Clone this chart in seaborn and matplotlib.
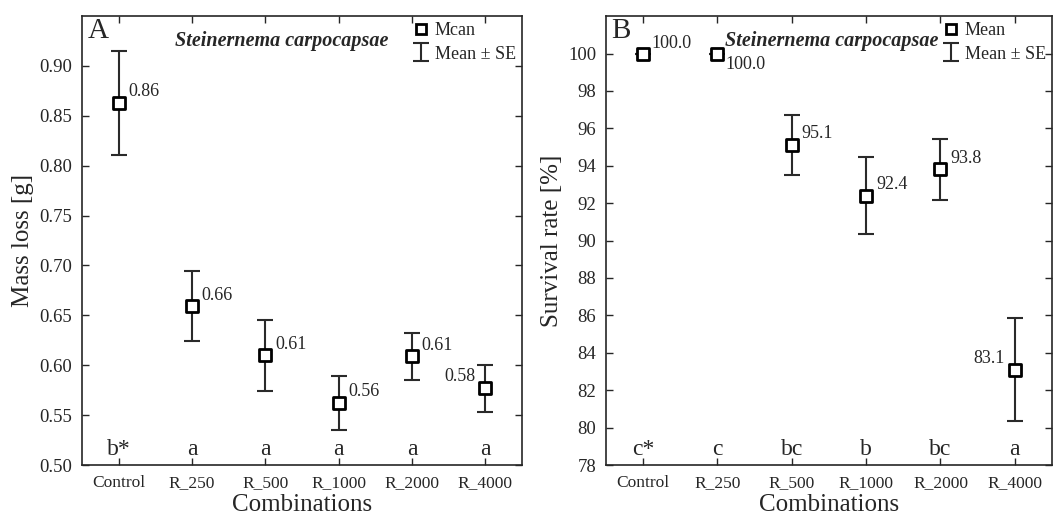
import seaborn as sns
import pandas as pd
import matplotlib.pyplot as plt
from matplotlib.lines import Line2D
from matplotlib.transforms import blended_transform_factory

# Data
combos = ['Control', 'R_250', 'R_500', 'R_1000', 'R_2000', 'R_4000']

mass_mean = [0.863, 0.659, 0.610, 0.562, 0.609, 0.577]
mass_se = [0.0525, 0.035, 0.0355, 0.027, 0.0235, 0.0235]
mass_lbl = ['0.86', '0.66', '0.61', '0.56', '0.61', '0.58']
mass_group = ['b*', 'a', 'a', 'a', 'a', 'a']

surv_mean = [100.0, 100.0, 95.1, 92.4, 93.8, 83.1]
surv_se = [0.0, 0.0, 1.6, 2.05, 1.65, 2.75]
surv_lbl = ['100.0', '100.0', '95.1', '92.4', '93.8', '83.1']
surv_group = ['c*', 'c', 'bc', 'b', 'bc', 'a']

sns.set_style('ticks')
plt.rcParams['font.family'] = ['Liberation Serif', 'DejaVu Serif']
plt.rcParams['mathtext.fontset'] = 'stix'

fig = plt.figure(figsize=(10.59, 5.19), dpi=100)
axA = fig.add_axes([0.0774, 0.104, 0.4155, 0.865])
axB = fig.add_axes([0.5722, 0.104, 0.4212, 0.865])


def panel(ax, mean, se, lbls, groups, ylim, yticks, fmt, ylabel, letter, legend_mean,
          offsets, title_x):
    df = pd.DataFrame({'combo': combos, 'mean': mean, 'se': se})
    x = list(range(len(combos)))
    eb = ax.errorbar(x, df['mean'], yerr=df['se'], fmt='none', ecolor='#2a2a2a',
                     elinewidth=1.5, capsize=5.5, capthick=1.5, zorder=2)
    sns.scatterplot(data=df, x='combo', y='mean', marker='s', s=80, facecolor='white',
                    edgecolor='black', linewidth=2, ax=ax, zorder=3, legend=False)
    for xi, m, t, (dx, dy, ha, va) in zip(x, mean, lbls, offsets):
        ax.annotate(t, (xi, m), xytext=(dx, dy), textcoords='offset points',
                    ha=ha, va=va, fontsize=13)
    tr = blended_transform_factory(ax.transData, ax.transAxes)
    for xi, g in zip(x, groups):
        ax.text(xi, 0.012, g, transform=tr, ha='center', va='bottom', fontsize=17)
    ax.set_xlim(-0.5, 5.5)
    ax.set_ylim(*ylim)
    ax.set_yticks(yticks)
    ax.set_yticklabels([fmt.format(v) for v in yticks], fontsize=13.5)
    ax.set_xticks(x)
    ax.set_xticklabels(combos, fontsize=12.5)
    ax.tick_params(direction='in', top=True, right=True, length=5, width=1, pad=7)
    ax.set_xlabel('Combinations', fontsize=18, labelpad=2)
    ax.set_ylabel(ylabel, fontsize=18, labelpad=4)
    for s in ax.spines.values():
        s.set_linewidth(1.2)
    ax.text(0.012, 0.995, letter, transform=ax.transAxes, ha='left', va='top', fontsize=21)
    ax.text(title_x, 0.945, 'Steinernema carpocapsae', transform=ax.transAxes, ha='center',
            va='center', fontsize=14.5, fontweight='bold', style='italic')
    h_mean = Line2D([], [], marker='s', linestyle='none', markersize=7,
                    markerfacecolor='white', markeredgecolor='black', markeredgewidth=2)
    ax.legend([h_mean, eb], [legend_mean, 'Mean ± SE'], loc='upper right', frameon=False,
              fontsize=13, handlelength=0.9, handletextpad=0.3, labelspacing=0.35,
              borderaxespad=0.15, borderpad=0.2)


panel(axA, mass_mean, mass_se, mass_lbl, mass_group, (0.5, 0.95),
      [0.50, 0.55, 0.60, 0.65, 0.70, 0.75, 0.80, 0.85, 0.90], '{:.2f}',
      'Mass loss [g]', 'A', 'Mcan',
      [(7, 2, 'left', 'bottom')] * 5 + [(-7, 2, 'right', 'bottom')], 0.455)
panel(axB, surv_mean, surv_se, surv_lbl, surv_group, (78, 102),
      list(range(78, 101, 2)), '{:.0f}',
      'Survival rate [%]', 'B', 'Mean',
      [(6, 1, 'left', 'bottom'), (6, -2, 'left', 'top')] + [(7, 2, 'left', 'bottom')] * 3
      + [(-7, 2, 'right', 'bottom')], 0.507)

fig.savefig('out.png', dpi=100)
